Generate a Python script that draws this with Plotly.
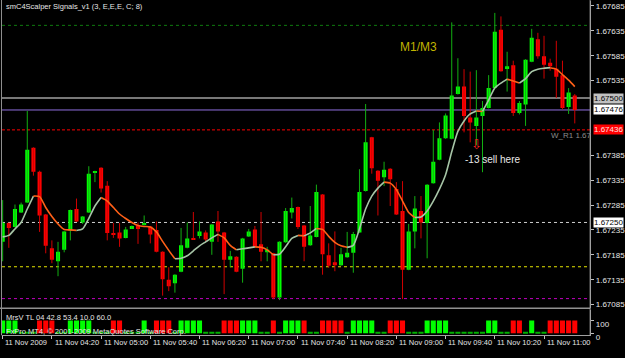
import plotly.graph_objects as go

# ---------------- data ----------------
title_text = "smC4Scalper Signals_v1 (3, E,E,E, C; 8)"

opens = [1.67211, 1.67249, 1.67241, 1.67270, 1.67290, 1.67400, 1.67352, 1.67266, 1.67198, 1.67172,
         1.67195, 1.67234, 1.67277, 1.67250, 1.67270, 1.67350, 1.67360, 1.67324, 1.67229, 1.67230,
         1.67219, 1.67237, 1.67244, 1.67245, 1.67242, 1.67235, 1.67191, 1.67135, 1.67128, 1.67151,
         1.67199, 1.67219, 1.67223, 1.67230, 1.67211, 1.67252, 1.67230, 1.67175, 1.67181, 1.67157,
         1.67222, 1.67236, 1.67206, 1.67190, 1.67188, 1.67099, 1.67210, 1.67270, 1.67281, 1.67244,
         1.67204, 1.67221, 1.67306, 1.67184, 1.67170, 1.67164, 1.67180, 1.67189, 1.67230, 1.67313,
         1.67421, 1.67354, 1.67341, 1.67358, 1.67317, 1.67273, 1.67155, 1.67232, 1.67273, 1.67249,
         1.67329, 1.67376, 1.67419, 1.67418, 1.67508, 1.67523, 1.67461, 1.67444, 1.67464, 1.67480,
         1.67520, 1.67637, 1.67560, 1.67566, 1.67470, 1.67487, 1.67573, 1.67618, 1.67584, 1.67571,
         1.67559, 1.67546, 1.67482, 1.67505]
highs = [1.67295, 1.67250, 1.67286, 1.67290, 1.67474, 1.67401, 1.67354, 1.67267, 1.67214, 1.67211,
         1.67233, 1.67276, 1.67298, 1.67263, 1.67363, 1.67354, 1.67361, 1.67333, 1.67249, 1.67249,
         1.67241, 1.67244, 1.67250, 1.67264, 1.67243, 1.67252, 1.67192, 1.67160, 1.67146, 1.67239,
         1.67250, 1.67271, 1.67252, 1.67234, 1.67247, 1.67273, 1.67231, 1.67193, 1.67182, 1.67219,
         1.67237, 1.67243, 1.67271, 1.67201, 1.67189, 1.67212, 1.67279, 1.67300, 1.67282, 1.67245,
         1.67283, 1.67326, 1.67307, 1.67208, 1.67232, 1.67199, 1.67231, 1.67231, 1.67357, 1.67488,
         1.67422, 1.67355, 1.67372, 1.67359, 1.67331, 1.67333, 1.67247, 1.67303, 1.67303, 1.67327,
         1.67436, 1.67451, 1.67469, 1.67652, 1.67580, 1.67558, 1.67553, 1.67556, 1.67494, 1.67546,
         1.67671, 1.67664, 1.67593, 1.67575, 1.67494, 1.67578, 1.67639, 1.67631, 1.67625, 1.67579,
         1.67615, 1.67575, 1.67520, 1.67508]
lows = [1.67172, 1.67199, 1.67240, 1.67269, 1.67289, 1.67344, 1.67231, 1.67188, 1.67168, 1.67142,
        1.67190, 1.67214, 1.67251, 1.67247, 1.67269, 1.67331, 1.67310, 1.67214, 1.67219, 1.67201,
        1.67218, 1.67237, 1.67207, 1.67244, 1.67208, 1.67190, 1.67103, 1.67112, 1.67109, 1.67150,
        1.67198, 1.67215, 1.67218, 1.67212, 1.67185, 1.67211, 1.67106, 1.67160, 1.67150, 1.67129,
        1.67221, 1.67200, 1.67172, 1.67172, 1.67096, 1.67094, 1.67209, 1.67258, 1.67237, 1.67172,
        1.67203, 1.67220, 1.67145, 1.67159, 1.67152, 1.67163, 1.67179, 1.67149, 1.67229, 1.67312,
        1.67348, 1.67264, 1.67323, 1.67283, 1.67265, 1.67096, 1.67154, 1.67198, 1.67218, 1.67178,
        1.67328, 1.67375, 1.67418, 1.67417, 1.67507, 1.67431, 1.67411, 1.67405, 1.67351, 1.67479,
        1.67519, 1.67553, 1.67513, 1.67464, 1.67467, 1.67444, 1.67572, 1.67579, 1.67539, 1.67555,
        1.67500, 1.67477, 1.67468, 1.67449]
closes = [1.67249, 1.67239, 1.67277, 1.67286, 1.67396, 1.67352, 1.67264, 1.67203, 1.67175, 1.67191,
          1.67232, 1.67275, 1.67252, 1.67262, 1.67348, 1.67352, 1.67318, 1.67229, 1.67226, 1.67218,
          1.67236, 1.67243, 1.67237, 1.67246, 1.67226, 1.67191, 1.67136, 1.67122, 1.67145, 1.67204,
          1.67218, 1.67216, 1.67232, 1.67216, 1.67246, 1.67232, 1.67175, 1.67182, 1.67151, 1.67218,
          1.67232, 1.67201, 1.67191, 1.67195, 1.67099, 1.67211, 1.67273, 1.67279, 1.67241, 1.67201,
          1.67224, 1.67311, 1.67186, 1.67163, 1.67164, 1.67186, 1.67189, 1.67227, 1.67311, 1.67411,
          1.67359, 1.67334, 1.67356, 1.67337, 1.67266, 1.67155, 1.67232, 1.67278, 1.67250, 1.67326,
          1.67372, 1.67419, 1.67465, 1.67505, 1.67523, 1.67464, 1.67451, 1.67461, 1.67480, 1.67520,
          1.67633, 1.67554, 1.67564, 1.67470, 1.67490, 1.67577, 1.67621, 1.67584, 1.67567, 1.67564,
          1.67543, 1.67480, 1.67511, 1.67476]
ma_line = [1.67221, 1.67224, 1.67237, 1.67250, 1.67277, 1.67303, 1.67302, 1.67280, 1.67262, 1.67247,
           1.67236, 1.67235, 1.67234, 1.67237, 1.67258, 1.67283, 1.67300, 1.67293, 1.67280, 1.67267,
           1.67258, 1.67250, 1.67244, 1.67242, 1.67241, 1.67231, 1.67212, 1.67194, 1.67177, 1.67178,
           1.67183, 1.67193, 1.67203, 1.67211, 1.67219, 1.67226, 1.67219, 1.67204, 1.67195, 1.67197,
           1.67199, 1.67201, 1.67200, 1.67195, 1.67185, 1.67186, 1.67201, 1.67218, 1.67224, 1.67223,
           1.67229, 1.67238, 1.67236, 1.67222, 1.67210, 1.67203, 1.67200, 1.67204, 1.67237, 1.67277,
           1.67303, 1.67319, 1.67331, 1.67329, 1.67316, 1.67293, 1.67270, 1.67260, 1.67261, 1.67273,
           1.67293, 1.67317, 1.67346, 1.67392, 1.67433, 1.67454, 1.67468, 1.67474, 1.67473, 1.67496,
           1.67520, 1.67530, 1.67538, 1.67534, 1.67530, 1.67539, 1.67553, 1.67558, 1.67560, 1.67561,
           1.67558, 1.67547, 1.67536, 1.67523]
# MrsV TL histogram: 1 = up (green), -1 = down (red), 0 = flat
mrsv_signal = [1, 1, 1, 0, 0, 0, -1, -1, -1, 0,
               0, 1, 1, 1, 1, 0, 0, 0, -1, -1,
               0, 0, 0, 1, 0, -1, -1, -1, 0, 1,
               1, 1, 1, 0, 0, 0, -1, -1, -1, 1,
               1, 1, 0, 0, -1, 0, 1, 1, 1, -1,
               0, 0, -1, -1, -1, -1, 0, 1, 1, 1,
               1, 0, 0, -1, -1, -1, 0, 0, 0, 1,
               1, 1, 1, 0, 0, 0, 0, 0, 0, 1,
               1, 0, 0, -1, -1, 0, 1, 0, 0, -1,
               -1, -1, -1, -1]

price_ticks = [1.67085, 1.67135, 1.67185, 1.67235, 1.67285, 1.67335, 1.67385,
               1.67535, 1.67585, 1.67635, 1.67685]
time_tick_bars = [0, 8, 16, 24, 32, 40, 48, 56, 64, 72, 80, 88]
time_tick_labels = ["11 Nov 2009", "11 Nov 04:20", "11 Nov 05:00", "11 Nov 05:40",
                    "11 Nov 06:20", "11 Nov 07:00", "11 Nov 07:40", "11 Nov 08:20",
                    "11 Nov 09:00", "11 Nov 09:40", "11 Nov 10:20", "11 Nov 11:00"]

level_green = 1.67646
level_gray = 1.67500
level_purple = 1.67476
level_red = 1.67436
level_white = 1.67250
level_yellow = 1.67161
level_magenta = 1.67097

signal_bar = 77
signal_price = 1.67404

# ---------------- figure ----------------
W, H = 625, 358
FONT = "Liberation Sans, Arial, sans-serif"
UP, DN = "#00ff00", "#ff0000"
UPW, DNW = "#12b012", "#d00000"

def px(xp):
    return xp / W

def py(yp):
    return 1 - yp / H

n = len(opens)
idx = list(range(n))
is_up = [c >= o for o, c in zip(opens, closes)]

fig = go.Figure()

# wicks
for flag, col in ((True, UPW), (False, DNW)):
    wx, wy = [], []
    for i in idx:
        if is_up[i] == flag:
            wx += [i, i, None]
            wy += [lows[i], highs[i], None]
    fig.add_trace(go.Scatter(x=wx, y=wy, mode="lines", line=dict(color=col, width=1),
                             hoverinfo="skip", showlegend=False, xaxis="x", yaxis="y"))

# bodies
min_body = 0.000025
base = [min(o, c) for o, c in zip(opens, closes)]
hgt = [max(abs(c - o), min_body) for o, c in zip(opens, closes)]
fig.add_trace(go.Bar(x=idx, y=hgt, base=base, width=0.66,
                     marker=dict(color=[UP if u else DN for u in is_up], line=dict(width=0)),
                     showlegend=False, xaxis="x", yaxis="y"))

# moving average, coloured by slope
runs = []
cur = None
for i in range(n - 1):
    rising = ma_line[i + 1] >= ma_line[i]
    if cur is None or cur[0] != rising:
        cur = [rising, [i]]
        runs.append(cur)
    cur[1].append(i + 1)
for rising, pts in runs:
    fig.add_trace(go.Scatter(x=pts, y=[ma_line[p] for p in pts], mode="lines",
                             line=dict(color="#a6c4a6" if rising else "#ff6018", width=1.6,
                                       shape="spline", smoothing=0.6),
                             hoverinfo="skip", showlegend=False, xaxis="x", yaxis="y"))

# sell signal arrow
fig.add_trace(go.Scatter(x=[signal_bar], y=[signal_price], mode="text", text=["⇩"],
                         textposition="middle center",
                         textfont=dict(family="DejaVu Sans", size=13, color="#ff2020"),
                         hoverinfo="skip", showlegend=False, xaxis="x", yaxis="y"))

# MrsV TL histogram
hv, hc = [], []
for s in mrsv_signal:
    if s > 0:
        hv.append(100); hc.append(UP)
    elif s < 0:
        hv.append(100); hc.append(DN)
    else:
        hv.append(10); hc.append("#00b000")
fig.add_trace(go.Bar(x=idx, y=hv, width=0.82, marker=dict(color=hc, line=dict(width=0)),
                     showlegend=False, xaxis="x2", yaxis="y2"))

xl, xr = px(2), px(593)
shapes = []
def hline(level, color, dash, width=1):
    shapes.append(dict(type="line", xref="paper", yref="y", x0=xl, x1=xr, y0=level, y1=level,
                       line=dict(color=color, width=width, dash=dash), layer="below"))

hline(level_green, "#0f7a0f", "dot")
hline(level_gray, "#a0a0a0", "solid", 1.5)
hline(level_purple, "#9070e0", "solid")
hline(level_red, "#ff0000", "3px,2px")
hline(level_white, "#d0d0d0", "3px,3px")
hline(level_yellow, "#e6e600", "3px,3px")
hline(level_magenta, "#c000c0", "3px,3px")

# frame lines
shapes.append(dict(type="line", xref="paper", yref="paper", x0=px(1.5), x1=px(1.5),
                   y0=py(342), y1=1, line=dict(color="#909090", width=1)))
shapes.append(dict(type="line", xref="paper", yref="paper", x0=0, x1=xr,
                   y0=py(314.5), y1=py(314.5), line=dict(color="#909090", width=1.5)))
shapes.append(dict(type="line", xref="paper", yref="paper", x0=xr, x1=xr,
                   y0=py(342), y1=1, line=dict(color="#a0a0a0", width=1)))

ann = []
def text(x, y, s, color="#e6e6e6", size=8, anchor="left", **kw):
    ann.append(dict(x=x, y=y, xref="paper", yref="paper", text=s, showarrow=False,
                    xanchor=anchor, yanchor="middle", font=dict(family=FONT, size=size, color=color), **kw))

text(px(4), py(7), title_text, size=7.5)
text(px(4), py(324), "MrsV TL 04 42.8 53.4 10.0 60.0", size=7.5)
text(px(4), py(338), "FxPro MT4, © 2001-2009 MetaQuotes Software Corp.", size=7.5)
text(px(400), py(48), "M1/M3", color="#c0b400", size=12)
text(px(465), py(163), "-13 sell here", color="#e8e8e8", size=10)
text(px(552), py(138), "W_R1 1.67", color="#8c8c8c", size=8)

# boxed price labels
for lvl, bg, fg in ((level_gray, "#c0c0c0", "#000000"), (level_purple, "#ffffff", "#000000"),
                    (level_red, "#ff0000", "#ffe0e0"), (level_white, "#ffffff", "#000000")):
    ann.append(dict(x=px(596), y=lvl, xref="paper", yref="y", text=f"{lvl:.5f}", showarrow=False,
                    xanchor="left", yanchor="middle", bgcolor=bg, borderpad=0,
                    font=dict(family=FONT, size=8, color=fg)))

# time labels
for b, lab in zip(time_tick_bars, time_tick_labels):
    ann.append(dict(x=b + 0.1, y=py(349), xref="x2", yref="paper", text=lab, showarrow=False,
                    xanchor="left", yanchor="middle", font=dict(family=FONT, size=7.5, color="#e6e6e6")))

xrange = [-0.11, 95.5]
fig.update_layout(
    width=W, height=H, margin=dict(l=0, r=0, t=0, b=0),
    paper_bgcolor="#000000", plot_bgcolor="#000000",
    barmode="overlay", showlegend=False, shapes=shapes, annotations=ann,
    xaxis=dict(domain=[xl, xr], range=xrange, showticklabels=False, showgrid=False,
               zeroline=False, showline=False, ticks="", anchor="y"),
    yaxis=dict(domain=[py(314), py(1)], range=[1.670784, 1.676950], side="right", anchor="x",
               tickvals=price_ticks, ticktext=[f"{v:.5f}" for v in price_ticks],
               ticks="outside", ticklen=3, tickcolor="#c0c0c0", showgrid=False, zeroline=False,
               showline=True, linecolor="#a0a0a0",
               tickfont=dict(family=FONT, size=8, color="#e6e6e6")),
    xaxis2=dict(domain=[xl, xr], range=xrange, anchor="y2", tickvals=time_tick_bars,
                ticks="outside", ticklen=3, tickcolor="#c0c0c0", showticklabels=False,
                showgrid=False, zeroline=False, showline=True, linecolor="#a0a0a0"),
    yaxis2=dict(domain=[py(342), py(316)], range=[-15.4, 184.6], side="right", anchor="x2",
                tickvals=[100, 0], ticktext=["100", "0"], ticks="outside", ticklen=3,
                tickcolor="#c0c0c0", showgrid=False, zeroline=False, showline=True,
                linecolor="#a0a0a0", ticklabelshift=4,
                tickfont=dict(family=FONT, size=8, color="#e6e6e6")),
)

fig.write_html("out.html")
